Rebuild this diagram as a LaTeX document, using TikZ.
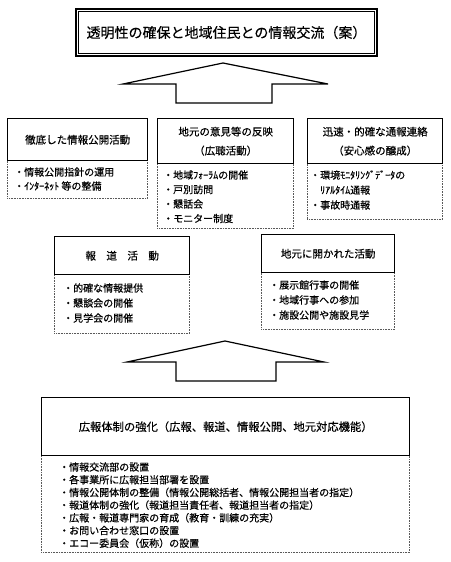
\documentclass[tikz,border=0pt]{standalone}
\usepackage{fontspec}
\setmainfont{Noto Sans CJK JP}[FakeBold=0.4]
\begin{document}
\begin{tikzpicture}[x=1pt,y=-1pt,
  hdr/.style={draw, line width=1.4pt, anchor=north west, inner sep=0pt, align=center, fill=white,
    font=\fontsize{10.5}{19}\selectfont},
  itm/.style={draw=black!65, line width=0.6pt, densely dotted, anchor=north west, inner sep=0pt},
  txt/.style={anchor=west, inner sep=0pt, font=\fontsize{10}{12}\selectfont},
  bigarrow/.style={draw, line width=1.2pt, line join=miter, fill=white}]
\useasboundingbox[fill=white] (0,0) rectangle (450,562);

% title
\node[draw, line width=2pt, minimum width=301pt, minimum height=47pt, anchor=north west,
  inner sep=0pt, font=\fontsize{14}{16}\selectfont] (title) at (75,8) {透明性の確保と地域住民との情報交流（案）};
\draw[line width=0.6pt] ([shift={(3.5pt,-3.5pt)}]title.north west) rectangle ([shift={(-3.5pt,3.5pt)}]title.south east);

% upper arrow
\draw[bigarrow] (123,84) -- (223,63) -- (328,84) -- (272,84) -- (272,103) -- (176,103) -- (176,84) -- cycle;

% row 1
\node[itm, minimum width=140pt, minimum height=38pt] (i1) at (7,160) {};
\node[hdr, minimum width=140pt, minimum height=42pt] (h1) at (7,118) {徹底した情報公開活動};
\node[txt] (t11) at (14,172) {・情報公開指針の運用};
\node[txt] (t12) at (14,186) {・ｲﾝﾀｰﾈｯﾄ 等の整備};

\node[itm, minimum width=136pt, minimum height=65pt] (i2) at (157,163) {};
\node[hdr, minimum width=136pt, minimum height=45pt] (h2) at (157,118) {地元の意見等の反映\\（広聴活動）};
\node[txt] (t21) at (163,175) {・地域ﾌｫｰﾗﾑの開催};
\node[txt] (t22) at (163,189.5) {・戸別訪問};
\node[txt] (t23) at (163,204) {・懇話会};
\node[txt] (t24) at (163,218.5) {・モニター制度};

\node[itm, minimum width=135pt, minimum height=56pt] (i3) at (307,163) {};
\node[hdr, minimum width=135pt, minimum height=45pt] (h3) at (307,118) {迅速・的確な通報連絡\\（安心感の醸成）};
\node[txt] (t31) at (310,175) {・環境ﾓﾆﾀﾘﾝｸﾞﾃﾞｰﾀの};
\node[txt] (t32) at (320,190) {ﾘｱﾙﾀｲﾑ通報};
\node[txt] (t33) at (310,205) {・事故時通報};

% row 2
\node[itm, minimum width=135pt, minimum height=59pt] (iL) at (54,274) {};
\node[hdr, minimum width=135pt, minimum height=38pt] (hL) at (54,236) {報　道　活　動};
\node[txt] (tL1) at (63,288) {・的確な情報提供};
\node[txt] (tL2) at (63,303) {・懇談会の開催};
\node[txt] (tL3) at (63,318) {・見学会の開催};

\node[itm, minimum width=133pt, minimum height=57pt] (iR) at (261,272) {};
\node[hdr, minimum width=133pt, minimum height=38pt] (hR) at (261,234) {地元に開かれた活動};
\node[txt] (tR1) at (269,285) {・展示館行事の開催};
\node[txt] (tR2) at (269,300) {・地域行事への参加};
\node[txt] (tR3) at (269,315) {・施設公開や施設見学};

% lower arrow
\draw[bigarrow] (127,362) -- (225,341) -- (324,362) -- (276,362) -- (276,381) -- (176,381) -- (176,362) -- cycle;

% bottom box
\node[itm, minimum width=368pt, minimum height=97pt] (iB) at (41,455) {};
\node[hdr, minimum width=368pt, minimum height=58pt, font=\fontsize{11.3}{13}\selectfont] (hB) at (41,397)
  {広報体制の強化（広報、報道、情報公開、地元対応機能）};
\node[txt] (tB1) at (59,467) {・情報交流部の設置};
\node[txt] (tB2) at (59,479.7) {・各事業所に広報担当部署を設置};
\node[txt] (tB3) at (59,492.4) {・情報公開体制の整備（情報公開総括者、情報公開担当者の指定）};
\node[txt] (tB4) at (59,505.1) {・報道体制の強化（報道担当責任者、報道担当者の指定）};
\node[txt] (tB5) at (59,517.8) {・広報・報道専門家の育成（教育・訓練の充実）};
\node[txt] (tB6) at (59,530.5) {・お問い合わせ窓口の設置};
\node[txt] (tB7) at (59,543.2) {・エコー委員会（仮称）の設置};
\end{tikzpicture}
\end{document}
